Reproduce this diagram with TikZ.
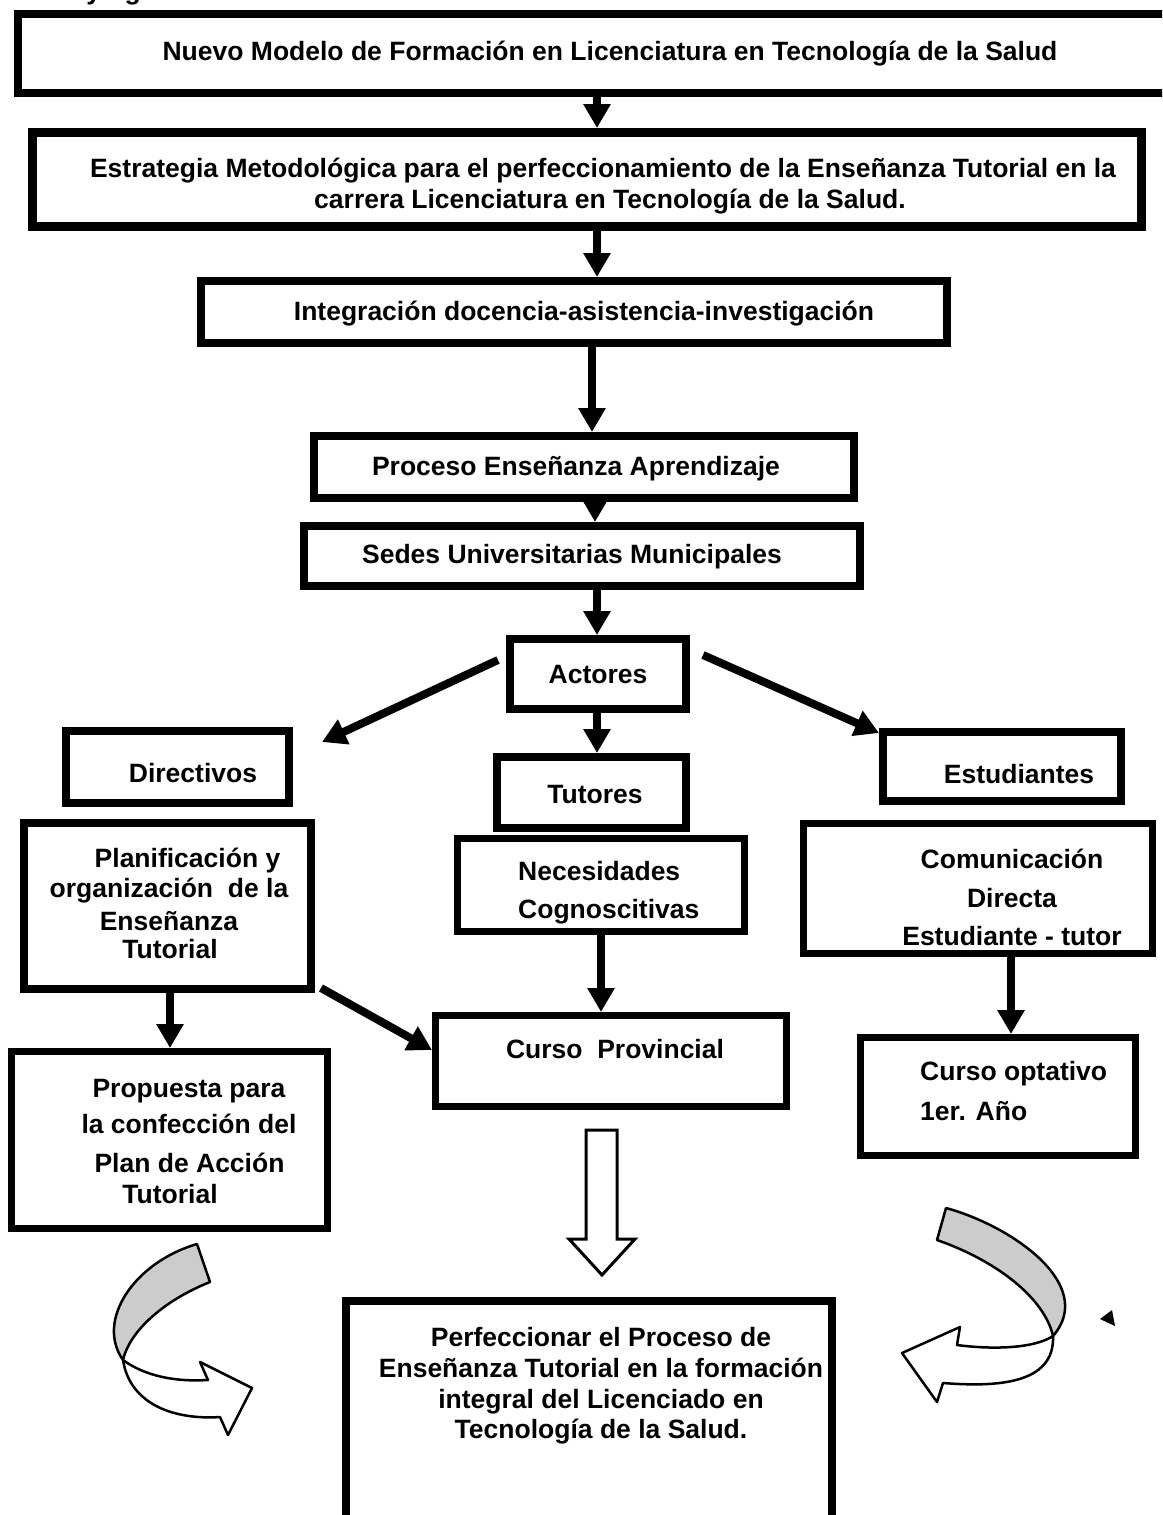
\documentclass[tikz,border=0pt]{standalone}
\usepackage{fontspec}
\setmainfont{Liberation Sans}
\usetikzlibrary{arrows.meta}
\begin{document}
\begin{tikzpicture}[x=1pt,y=-1pt,
  box/.style={draw=black, line width=#1, inner sep=0pt},
  box/.default=8pt,
  lbl/.style={font=\fontsize{26.5}{32}\selectfont\bfseries, inner sep=0pt, anchor=base},
  lbll/.style={lbl, anchor=base west},
  arr/.style={line width=8pt, -{Triangle[width=26pt,length=24pt]}},
  ribbon/.style={draw=black, line width=2.5pt, line join=round},
  hollow/.style={draw=black, line width=3pt, fill=white, line join=miter}]
\useasboundingbox (0,0) rectangle (1162,1515);
\fill[white] (0,0) rectangle (1162,1515);
\clip (0,0) rectangle (1162,1515);

% clipped heading at the top edge
\node[lbl, anchor=base east] (anexos) at (197,-1) {Anexos y figuras};

% boxes
\node[box=8pt, minimum width=1178pt, minimum height=79pt] (top) at (607,53.5) {};
\node[box=9pt, minimum width=1109pt, minimum height=94pt] (box2) at (587,179.5) {};
\node[box=8pt, minimum width=746pt, minimum height=62pt] (box3) at (574,312) {};
\node[box=8pt, minimum width=540pt, minimum height=62pt] (box4) at (584,467) {};
\node[box=8pt, minimum width=556pt, minimum height=60pt] (box5) at (582,556) {};
\node[box=8pt, minimum width=176pt, minimum height=70pt] (actores) at (598,674) {};
\node[box=8pt, minimum width=223pt, minimum height=72pt] (directivos) at (177.5,767) {};
\node[box=8pt, minimum width=189pt, minimum height=71pt] (tutores) at (591.5,792.5) {};
\node[box=8pt, minimum width=238pt, minimum height=69pt] (estudiantes) at (1002,766.5) {};
\node[box=8pt, minimum width=287pt, minimum height=166pt] (planif) at (167.5,906) {};
\node[box=7pt, minimum width=287pt, minimum height=93pt] (neces) at (601,885) {};
\node[box=7pt, minimum width=349pt, minimum height=130pt] (comun) at (978,888.5) {};
\node[box=7pt, minimum width=316pt, minimum height=177pt] (propuesta) at (169.5,1140) {};
\node[box=7pt, minimum width=351pt, minimum height=91pt] (provincial) at (611,1061) {};
\node[box=7pt, minimum width=275pt, minimum height=118pt] (optativo) at (998,1096.5) {};
\node[box=8pt, minimum width=486pt, minimum height=224pt] (final) at (589,1413) {};

% straight connectors
\draw[arr] (597,0 |- top.south) -- (597,0 |- box2.north);
\draw[arr] (597,0 |- box2.south) -- (597,0 |- box3.north);
\draw[arr] (592,0 |- box3.south) -- (592,0 |- box4.north);
\draw[arr] (595,0 |- box4.south) -- (595,0 |- box5.north);
\draw[arr] (597,0 |- box5.south) -- (597,0 |- actores.north);
\draw[arr] (597,0 |- actores.south) -- (597,0 |- tutores.north);
\coordinate (lfs) at (498,660);
\coordinate (lfe) at (322,742);
\draw[arr] (lfs) -- (lfe);
\coordinate (rts) at (703,655);
\coordinate (rte) at (879,733);
\draw[arr] (rts) -- (rte);
\draw[arr] (170,0 |- planif.south) -- (170,0 |- propuesta.north);
\coordinate (dgs) at (321,988);
\draw[arr] (dgs) -- (432,1050 -| provincial.west);
\draw[arr] (601,0 |- neces.south) -- (601,0 |- provincial.north);
\draw[arr] (1011,0 |- comun.south) -- (1011,0 |- optativo.north);

% hollow block arrow
\draw[hollow] (586,1130) -- (586,1239) -- (569,1239) -- (602,1275) -- (635,1239)
  -- (617,1239) -- (617,1130) -- cycle;

% left curved ribbon arrow
\draw[ribbon, fill=white] (123,1360) .. controls (145,1376) and (175,1382) .. (208,1380)
  -- (200,1362) -- (252,1388) -- (228,1435) -- (220,1417)
  .. controls (175,1420) and (130,1405) .. (123,1360) -- cycle;
\draw[ribbon, fill=black!20] (197,1244) .. controls (135,1262) and (95,1320) .. (123,1360)
  .. controls (130,1330) and (165,1300) .. (210,1282) -- cycle;

% right curved ribbon arrow
\draw[ribbon, fill=white] (1053,1336) .. controls (1035,1348) and (995,1350) .. (957,1345)
  -- (960,1327) -- (902,1353) -- (937,1402) -- (943,1383)
  .. controls (995,1387) and (1055,1385) .. (1053,1336) -- cycle;
\draw[ribbon, fill=black!20] (946,1208) .. controls (1012,1226) and (1097,1285) .. (1053,1336)
  .. controls (1045,1300) and (1000,1262) .. (937,1240) -- cycle;
\fill[black] (1100,1319) -- (1112,1310) -- (1115,1326) -- cycle;

% texts
\node[lbl] (ttop) at (610,60) {Nuevo Modelo de Formación en Licenciatura en Tecnología de la Salud};
\node[lbl] (t2a) at (603,177) {Estrategia Metodológica para el perfeccionamiento de la Enseñanza Tutorial en la};
\node[lbl] (t2b) at (610,208) {carrera Licenciatura en Tecnología de la Salud.};
\node[lbl] (t3) at (584,320) {Integración docencia-asistencia-investigación};
\node[lbl] (t4) at (576,475) {Proceso Enseñanza Aprendizaje};
\node[lbl] (t5) at (572,563) {Sedes Universitarias Municipales};
\node[lbl] (t6) at (598,683) {Actores};
\node[lbl] (t7) at (193,782) {Directivos};
\node[lbl] (t8) at (595,803) {Tutores};
\node[lbl] (t9) at (1019,783) {Estudiantes};
\node[lbl] (t10a) at (187.5,867) {Planificación y};
\node[lbl] (t10b) at (169,897) {organización\ \ de la};
\node[lbl] (t10c) at (169,930) {Enseñanza};
\node[lbl] (t10d) at (170,958) {Tutorial};
\node[lbll] (t11a) at (518,880) {Necesidades};
\node[lbll] (t11b) at (518,918) {Cognoscitivas};
\node[lbl] (t12a) at (1012,868) {Comunicación};
\node[lbl] (t12b) at (1012,907) {Directa};
\node[lbl] (t12c) at (1012,945) {Estudiante - tutor};
\node[lbl] (t13a) at (189,1097) {Propuesta para};
\node[lbl] (t13b) at (189,1133) {la confección del};
\node[lbl] (t13c) at (189.5,1172) {Plan de Acción};
\node[lbl] (t13d) at (170,1203) {Tutorial};
\node[lbl] (t14) at (615,1058) {Curso\ \ Provincial};
\node[lbll] (t15a) at (920,1080) {Curso optativo};
\node[lbll] (t15b) at (920,1120) {1er. Año};
\node[lbl] (t16a) at (601,1346) {Perfeccionar el Proceso de};
\node[lbl] (t16b) at (601,1377) {Enseñanza Tutorial en la formación};
\node[lbl] (t16c) at (601,1408) {integral del Licenciado en};
\node[lbl] (t16d) at (601,1438) {Tecnología de la Salud.};
\end{tikzpicture}
\end{document}
